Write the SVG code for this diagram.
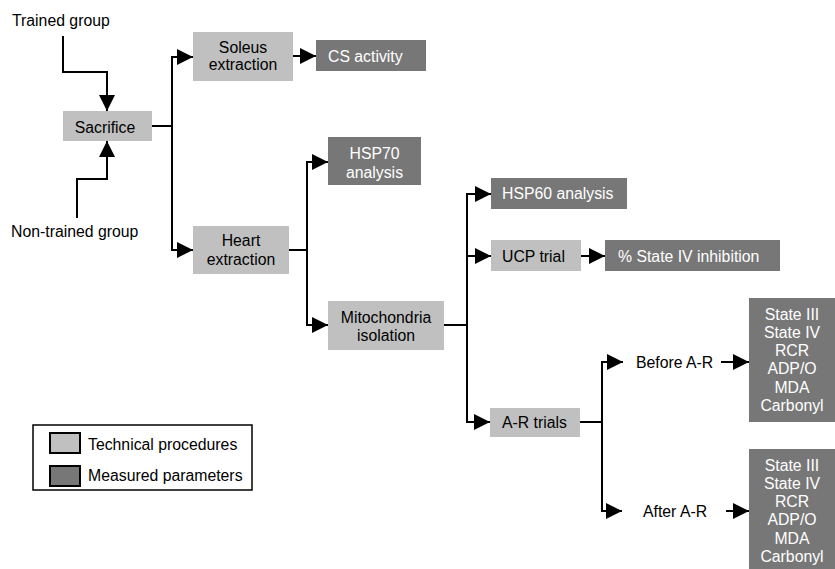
<svg xmlns="http://www.w3.org/2000/svg" width="835" height="569" viewBox="0 0 835 569">
<style>
text{font-family:"Liberation Sans",Arial,sans-serif;font-size:15.8px;fill:#000}
.c{text-anchor:middle}
.w{fill:#fff}
.tp{fill:#c0c0c0}
.mp{fill:#777}
.ln{fill:none;stroke:#000;stroke-width:2}
</style>
<defs>
<marker id="ah" markerUnits="userSpaceOnUse" markerWidth="16" markerHeight="16" refX="16" refY="8" orient="auto">
<path d="M0,0 L16,8 L0,16 Z" fill="#000"/>
</marker>
</defs>
<rect width="835" height="569" fill="#fff"/>
<g id="connectors">
<path class="ln" d="M63,36 V72 H107 V111" marker-end="url(#ah)"/>
<path class="ln" d="M77,218 V179 H107 V141" marker-end="url(#ah)"/>
<path class="ln" d="M152,126 H172"/>
<path class="ln" d="M172,126 V57 H193" marker-end="url(#ah)"/>
<path class="ln" d="M172,126 V250 H193" marker-end="url(#ah)"/>
<path class="ln" d="M293,56 H316" marker-end="url(#ah)"/>
<path class="ln" d="M289,250 H307"/>
<path class="ln" d="M307,250 V162 H328" marker-end="url(#ah)"/>
<path class="ln" d="M307,250 V325 H328" marker-end="url(#ah)"/>
<path class="ln" d="M444,325 H467"/>
<path class="ln" d="M467,325 V194 H491" marker-end="url(#ah)"/>
<path class="ln" d="M467,256 H491" marker-end="url(#ah)"/>
<path class="ln" d="M467,325 V422 H490" marker-end="url(#ah)"/>
<path class="ln" d="M581,256 H605" marker-end="url(#ah)"/>
<path class="ln" d="M580,422 H602"/>
<path class="ln" d="M602,422 V362 H623" marker-end="url(#ah)"/>
<path class="ln" d="M602,422 V511 H622" marker-end="url(#ah)"/>
<path class="ln" d="M721,362 H749" marker-end="url(#ah)"/>
<path class="ln" d="M726,511 H749" marker-end="url(#ah)"/>
</g>
<g id="trained"><text x="12" y="26">Trained group</text></g>
<g id="nontrained"><text x="11" y="237">Non-trained group</text></g>
<g id="sacrifice"><rect class="tp" x="63" y="111" width="89" height="30"/><text class="c" x="105" y="132.5">Sacrifice</text></g>
<g id="soleus"><rect class="tp" x="193" y="32" width="100" height="49"/><text class="c" x="243" y="52.5">Soleus</text><text class="c" x="243" y="70">extraction</text></g>
<g id="cs"><rect class="mp" x="316" y="40" width="110" height="31"/><text class="w" x="328" y="62">CS activity</text></g>
<g id="heart"><rect class="tp" x="193" y="226" width="96" height="48"/><text class="c" x="241" y="245.5">Heart</text><text class="c" x="241" y="264.5">extraction</text></g>
<g id="hsp70"><rect class="mp" x="328" y="137" width="93" height="48"/><text class="c w" x="374.5" y="158.5">HSP70</text><text class="c w" x="374.5" y="177.5">analysis</text></g>
<g id="mito"><rect class="tp" x="328" y="301" width="116" height="49"/><text class="c" x="386" y="322.5">Mitochondria</text><text class="c" x="386" y="340.5">isolation</text></g>
<g id="hsp60"><rect class="mp" x="491" y="178" width="136" height="31"/><text class="w" x="502" y="199">HSP60 analysis</text></g>
<g id="ucp"><rect class="tp" x="491" y="240" width="90" height="31"/><text x="502" y="261.5">UCP trial</text></g>
<g id="state4"><rect class="mp" x="605" y="240" width="175" height="31"/><text class="w" x="618" y="261.5">% State IV inhibition</text></g>
<g id="ar"><rect class="tp" x="490" y="408" width="90" height="29"/><text x="502" y="427.5">A-R trials</text></g>
<g id="before"><text x="636" y="367.5">Before A-R</text></g>
<g id="after"><text x="643" y="516.5">After A-R</text></g>
<g id="params1"><rect class="mp" x="749" y="298" width="86" height="124"/>
<text class="c w" x="792" y="319.5">State III</text><text class="c w" x="792" y="337.8">State IV</text><text class="c w" x="792" y="356.1">RCR</text><text class="c w" x="792" y="374.4">ADP/O</text><text class="c w" x="792" y="392.7">MDA</text><text class="c w" x="792" y="411">Carbonyl</text></g>
<g id="params2"><rect class="mp" x="749" y="449" width="86" height="120"/>
<text class="c w" x="792" y="470.5">State III</text><text class="c w" x="792" y="488.8">State IV</text><text class="c w" x="792" y="507.1">RCR</text><text class="c w" x="792" y="525.4">ADP/O</text><text class="c w" x="792" y="543.7">MDA</text><text class="c w" x="792" y="562">Carbonyl</text></g>
<g id="legend"><rect x="33" y="425" width="219" height="65" fill="#fff" stroke="#000" stroke-width="1.5"/>
<rect class="tp" x="50" y="433" width="30" height="20" stroke="#000" stroke-width="2"/>
<rect class="mp" x="50" y="466" width="30" height="20" stroke="#000" stroke-width="2"/>
<text x="88" y="449.5">Technical procedures</text><text x="88" y="480.5">Measured parameters</text></g>
</svg>
